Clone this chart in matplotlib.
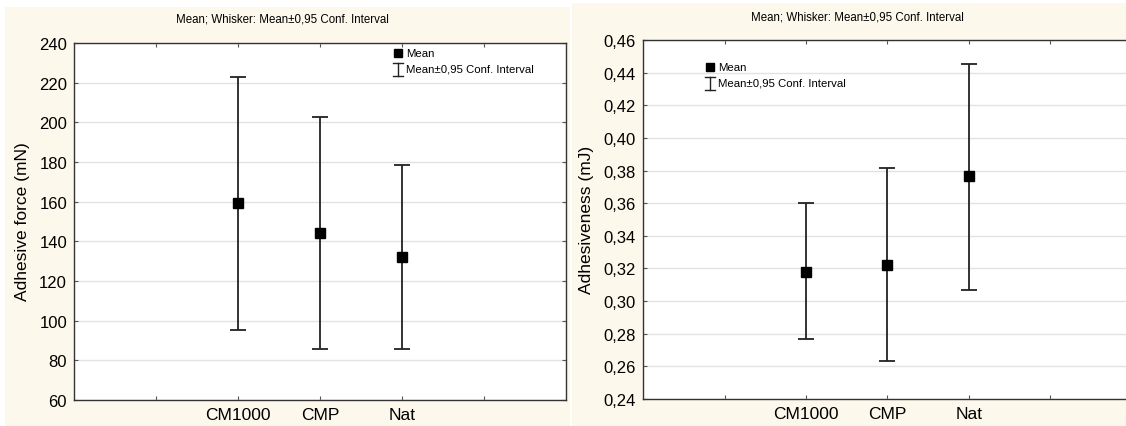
import matplotlib.pyplot as plt
from matplotlib.patches import Rectangle
from matplotlib.lines import Line2D
import numpy as np

plt.rcParams['font.family'] = ['Liberation Sans', 'DejaVu Sans']

groups = ['CM1000', 'CMP', 'Nat']

# adhesive force (mN)
force_mean = [159.3, 144.1, 132.2]
force_low = [95.4, 85.5, 85.5]
force_high = [222.7, 202.8, 178.5]

# adhesiveness (mJ)
adh_mean = [0.318, 0.3224, 0.3766]
adh_low = [0.2765, 0.263, 0.3065]
adh_high = [0.360, 0.3817, 0.4455]

force_ticks = [60, 80, 100, 120, 140, 160, 180, 200, 220, 240]
adh_ticks = [0.24, 0.26, 0.28, 0.30, 0.32, 0.34, 0.36, 0.38, 0.40, 0.42, 0.44, 0.46]

title = 'Mean; Whisker: Mean\u00b10,95 Conf. Interval'
W, H = 1126, 427
cream = '#fdf8ec'

fig = plt.figure(figsize=(W / 100, H / 100), dpi=100)
fig.patch.set_facecolor('white')
fig.patches.append(Rectangle((5 / W, 0), 565 / W, (H - 8) / H, transform=fig.transFigure,
                             facecolor=cream, edgecolor='none', zorder=-10))
fig.patches.append(Rectangle((572 / W, 0), 554 / W, (H - 4) / H, transform=fig.transFigure,
                             facecolor=cream, edgecolor='none', zorder=-10))


def panel(rect, mean, low, high, ticks, fmt, ylabel, leg_xy, title_xy, ylab_xy):
    ax = fig.add_axes(rect)
    ax.set_facecolor('white')
    x = np.arange(2, 2 + len(groups))
    mean = np.array(mean)
    err = [mean - np.array(low), np.array(high) - mean]
    ax.errorbar(x, mean, yerr=err, fmt='s', color='black', ecolor='#222222',
                elinewidth=1.3, capsize=6, capthick=1.3, markersize=6.5, zorder=3)
    ax.set_xlim(0, 6)
    ax.set_ylim(ticks[0], ticks[-1])
    ax.set_yticks(ticks)
    ax.set_yticklabels([fmt(t) for t in ticks], fontsize=12)
    ax.set_xticks([1, 2, 3, 4, 5])
    ax.set_xticklabels(['', *groups, ''], fontsize=12.5)
    ax.tick_params(direction='in', length=3, width=0.8, color='#555555',
                   top=True, right=True, pad=5)
    ax.grid(axis='y', color='#e2e2e2', linewidth=1)
    ax.set_axisbelow(True)
    for s in ax.spines.values():
        s.set_color('#333333')
        s.set_linewidth(1)
    fig.text(ylab_xy[0], ylab_xy[1], ylabel, rotation=90, fontsize=12.5, ha='center', va='center')
    fig.text(title_xy[0], title_xy[1], title, fontsize=8.3, ha='center', va='center')
    # legend drawn by hand like the original statistica style
    lx, ly = leg_xy
    fig.add_artist(Line2D([lx], [ly], marker='s', color='black', markersize=5.5,
                          transform=fig.transFigure))
    fig.text(lx + 8 / W, ly, 'Mean', fontsize=8.2, va='center')
    wy0, wy1 = ly - 10 / H, ly - 23 / H
    fig.add_artist(Line2D([lx, lx], [wy0, wy1], color='#222222', lw=1, transform=fig.transFigure))
    fig.add_artist(Line2D([lx - 5 / W, lx + 5 / W], [wy0, wy0], color='#222222', lw=1,
                          transform=fig.transFigure))
    fig.add_artist(Line2D([lx - 5 / W, lx + 5 / W], [wy1, wy1], color='#222222', lw=1,
                          transform=fig.transFigure))
    fig.text(lx + 8 / W, ly - 16 / H, 'Mean\u00b10,95 Conf. Interval', fontsize=8.2, va='center')
    return ax


def comma(fmtstr):
    return lambda v: (fmtstr % v).replace('.', ',')


panel([74 / W, (H - 401) / H, 492 / W, 357 / H], force_mean, force_low, force_high,
      force_ticks, comma('%d'), 'Adhesive force (mN)',
      (398 / W, (H - 54) / H), (282 / W, (H - 19) / H), (22 / W, (H - 222) / H))

ax2 = panel([643 / W, (H - 400) / H, 489 / W, 359 / H], adh_mean, adh_low, adh_high,
            adh_ticks, comma('%.2f'), 'Adhesiveness (mJ)',
            (710 / W, (H - 68) / H), (857 / W, (H - 18) / H), (587 / W, (H - 220) / H))
ax2.spines['right'].set_visible(False)

fig.savefig('out.png', dpi=100)
